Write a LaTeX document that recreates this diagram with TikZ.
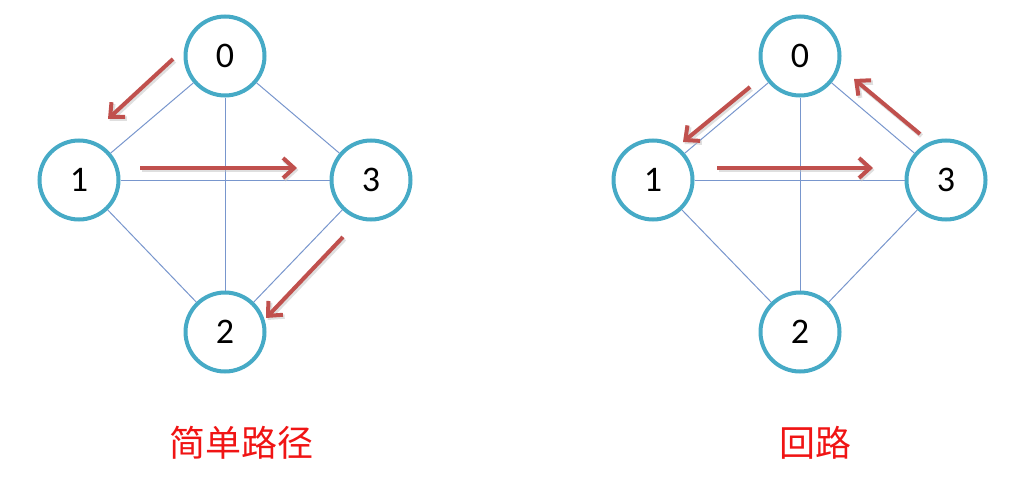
\documentclass[tikz,border=0pt]{standalone}
\usepackage{fontspec}
\setmainfont{Carlito}
\newfontfamily\cjk{Noto Sans CJK SC}
\usetikzlibrary{arrows.meta}
\definecolor{ringcol}{RGB}{70,170,198}
\definecolor{edgecol}{RGB}{120,150,205}
\definecolor{arrcol}{RGB}{192,80,77}
\definecolor{labcol}{RGB}{240,20,20}
\tikzset{
  vtx/.style={circle, draw=ringcol, line width=4pt, minimum size=79pt, inner sep=0pt,
    fill=white, font=\fontsize{36}{36}\selectfont, text=black},
  edge/.style={draw=edgecol, line width=1pt},
  patharrow/.style={draw=arrcol, line width=4pt,
    -{Straight Barb[length=11pt, width=20pt, line width=4pt]}},
  arrshadow/.style={draw=black!25, line width=4.5pt, opacity=0.5,
    -{Straight Barb[length=11pt, width=20pt, line width=4.5pt]}},
  caption/.style={font=\cjk\fontsize{36}{36}\selectfont, text=labcol}
}
\begin{document}
\begin{tikzpicture}[x=1pt, y=-1pt]
\useasboundingbox (0,0) rectangle (1011,495);
% ---------- left graph ----------
\node[vtx] (a0) at (225,56) {0};
\node[vtx] (a1) at (79,180) {1};
\node[vtx] (a3) at (371,180) {3};
\node[vtx] (a2) at (225,332) {2};
\draw[edge] (a0) -- (a1);
\draw[edge] (a0) -- (a3);
\draw[edge] (a0) -- (a2);
\draw[edge] (a1) -- (a3);
\draw[edge] (a1) -- (a2);
\draw[edge] (a3) -- (a2);
\coordinate (ls1) at (173,59);
\coordinate (le1) at (108,119);
\coordinate (ls2) at (140,168);
\coordinate (le2) at (297,168);
\coordinate (ls3) at (343,237);
\coordinate (le3) at (266,318);
\foreach \s/\e in {ls1/le1, ls2/le2, ls3/le3}{
  \draw[arrshadow] ([shift={(1.5pt,-2pt)}]\s) -- ([shift={(1.5pt,-2pt)}]\e);
  \draw[patharrow] (\s) -- (\e);
}
\node[caption] (cap1) at (241,443) {简单路径};
% ---------- right graph ----------
\node[vtx] (b0) at (800,56) {0};
\node[vtx] (b1) at (653,180) {1};
\node[vtx] (b3) at (946,180) {3};
\node[vtx] (b2) at (800,332) {2};
\draw[edge] (b0) -- (b1);
\draw[edge] (b0) -- (b3);
\draw[edge] (b0) -- (b2);
\draw[edge] (b1) -- (b3);
\draw[edge] (b1) -- (b2);
\draw[edge] (b3) -- (b2);
\coordinate (rs1) at (750,87);
\coordinate (re1) at (683,142);
\coordinate (rs2) at (717,168);
\coordinate (re2) at (873,168);
\coordinate (rs3) at (920,134);
\coordinate (re3) at (854,79);
\foreach \s/\e in {rs1/re1, rs2/re2, rs3/re3}{
  \draw[arrshadow] ([shift={(1.5pt,-2pt)}]\s) -- ([shift={(1.5pt,-2pt)}]\e);
  \draw[patharrow] (\s) -- (\e);
}
\node[caption] (cap2) at (815,443) {回路};
\end{tikzpicture}
\end{document}
